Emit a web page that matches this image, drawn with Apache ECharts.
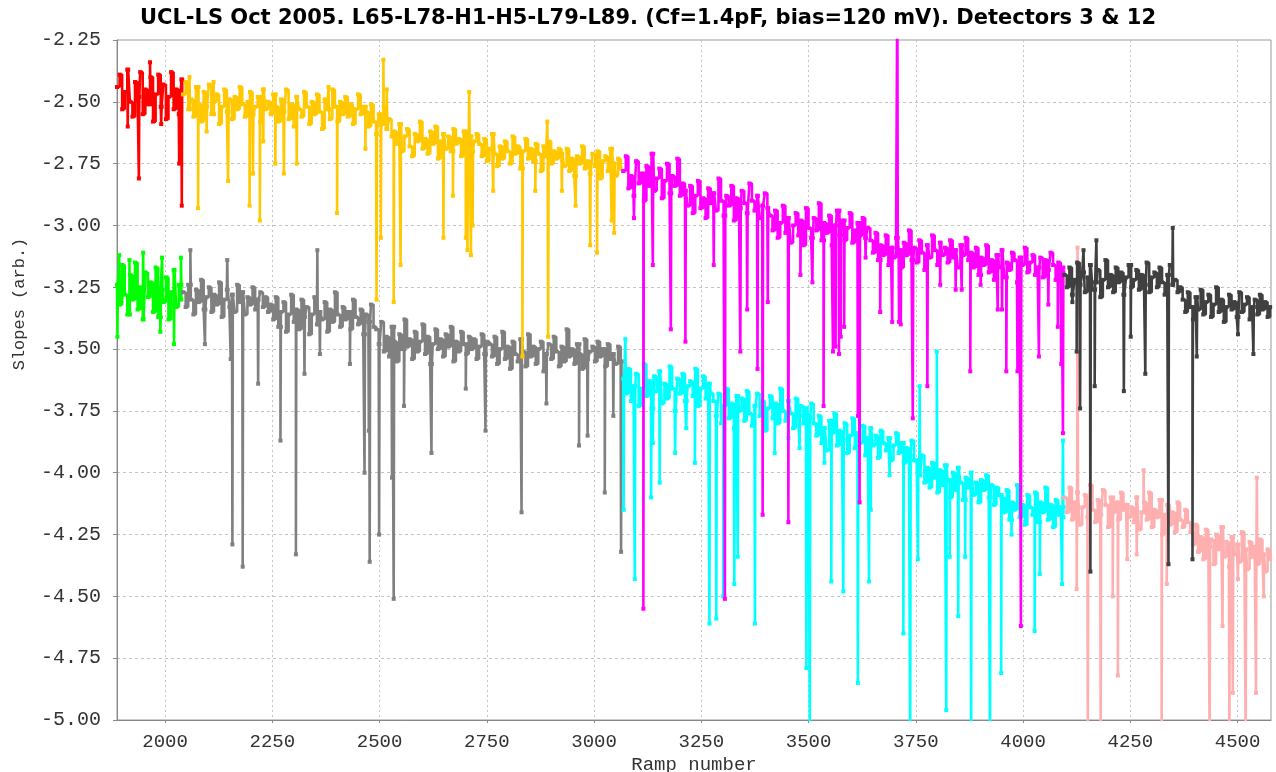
<!DOCTYPE html>
<html>
<head>
<meta charset="utf-8">
<script src="https://cdn.jsdelivr.net/npm/echarts/dist/echarts.min.js"></script>
<style>
html, body { margin: 0; padding: 0; background: #ffffff; }
#chart { width: 1276px; height: 772px; }
</style>
</head>
<body>
<div id="chart"></div>
<script>
// Ramp spacing between successive stored samples
const RAMP_STEP = 6;

// ---- Detector 3 ----
// L65 (red)
const l65Start = 1888;
const l65Det3 = [-2.44,-2.39,-2.53,-2.46,-2.37,-2.50,-2.56,-2.42,-2.48,-2.38,-2.55,-2.45,-2.51,-2.40,-2.58,-2.47,-2.39,-2.52,-2.43,-2.57,-2.48,-2.38,-2.53,-2.45,-2.55,-2.41];
const l65Det3Glitches = [[1913,-2.60],[1939,-2.81],[1965,-2.34],[1991,-2.59],[2033,-2.75],[2039,-2.92]];

// L78-H1 (orange)
const l78Start = 2042;
const l78Det3 = [
  -2.47,-2.42,-2.53,-2.49,-2.56,-2.44,-2.51,-2.58,-2.46,-2.52,-2.43,-2.55,-2.50,-2.47,-2.59,-2.52,-2.45,-2.54,-2.49,-2.57,
  -2.48,-2.53,-2.44,-2.51,-2.56,-2.50,-2.46,-2.55,-2.52,-2.48,-2.58,-2.45,-2.53,-2.50,
  -2.55,-2.47,-2.52,-2.58,-2.49,-2.54,-2.45,-2.57,-2.51,-2.60,-2.48,-2.53,-2.56,-2.46,-2.52,-2.59,-2.50,-2.55,-2.47,-2.54,
  -2.61,-2.49,-2.53,-2.57,-2.45,-2.52,-2.58,-2.50,-2.55,-2.48,-2.56,-2.51,-2.59,-2.53,-2.47,-2.55,-2.52,
  -2.54,-2.60,-2.51,-2.58,-2.63,-2.55,-2.59,-2.52,-2.61,-2.57,-2.64,
  -2.62,-2.67,-2.59,-2.70,-2.64,-2.61,-2.68,-2.72,-2.63,-2.66,-2.58,-2.69,-2.65,-2.71,-2.62,-2.67,-2.60,-2.73,-2.66,-2.63,
  -2.69,-2.64,-2.70,-2.61,-2.67,-2.65,-2.72,-2.62,-2.68,-2.64,-2.70,-2.66,-2.63,
  -2.67,-2.72,-2.65,-2.74,-2.69,-2.63,-2.71,-2.76,-2.68,-2.73,-2.66,-2.70,-2.75,-2.64,-2.71,-2.68,-2.77,-2.70,-2.65,-2.73,
  -2.69,-2.74,-2.67,-2.71,-2.78,-2.68,-2.72,-2.66,-2.75,-2.70,-2.73,-2.69,
  -2.71,-2.76,-2.69,-2.78,-2.73,-2.80,-2.72,-2.75,-2.68,-2.77,-2.74,-2.79,-2.71,-2.76,-2.70,-2.81,-2.74,-2.72,-2.78,-2.69,
  -2.75,-2.80,-2.73,-2.77
];
const l78Det3Glitches = [
  [2057,-2.40],[2077,-2.93],[2097,-2.62],[2113,-2.42],[2147,-2.82],[2197,-2.92],[2205,-2.79],[2221,-2.98],[2229,-2.66],
  [2257,-2.75],[2277,-2.79],[2307,-2.75],[2381,-2.44],[2401,-2.95],[2467,-2.69],[2493,-3.30],[2503,-3.05],[2509,-2.33],
  [2517,-2.45],[2533,-3.31],[2549,-3.16],[2649,-3.05],[2671,-2.88],[2701,-3.05],[2705,-3.10],[2709,-2.46],[2713,-3.12],
  [2717,-3.00],[2765,-2.86],[2833,-3.53],[2863,-2.86],[2891,-2.58],[2893,-3.45],[2925,-2.86],[2957,-2.92],[2991,-3.08],
  [3007,-3.11],[3041,-2.98],[3047,-3.03]
];

// H5-L79 (magenta)
const h5Start = 3068;
const h5Det3 = [
  -2.78,-2.72,-2.85,-2.80,-2.88,-2.74,-2.83,-2.79,-2.90,-2.76,-2.84,-2.71,-2.86,-2.81,-2.77,-2.89,-2.82,-2.75,-2.87,-2.80,
  -2.84,-2.73,-2.88,-2.83,
  -2.86,-2.92,-2.84,-2.95,-2.88,-2.82,-2.93,-2.89,-2.97,-2.85,-2.91,-2.87,-2.94,-2.81,-2.90,-2.96,-2.88,-2.92,-2.84,-2.98,
  -2.89,-2.93,-2.86,-2.91,-2.95,-2.83,-2.90,-2.94,-2.88,-2.97,-2.92,-2.87,-2.93,
  -2.96,-3.02,-2.94,-3.05,-2.99,-2.92,-3.03,-2.97,-3.07,-3.00,-2.95,-3.04,-2.98,-3.08,-2.93,-3.01,-3.05,-2.97,-3.02,-2.91,
  -3.06,-2.99,-3.03,-2.96,-3.08,-3.00,-2.94,-3.04,-2.98,-3.06,-3.01,-2.95,-3.07,-3.02,-2.99,-3.04,-2.97,-3.05,-3.01,
  -3.06,-3.11,-3.03,-3.14,-3.08,-3.12,-3.04,-3.16,-3.09,-3.13,-3.05,-3.10,-3.17,-3.07,-3.12,-3.02,-3.14,-3.09,-3.15,-3.06,
  -3.11,-3.18,-3.08,-3.13,-3.04,-3.10,-3.16,-3.07,-3.12,-3.09,-3.15,-3.06,-3.13,-3.10,-3.17,-3.08,-3.12,-3.05,-3.14,
  -3.11,-3.17,-3.09,-3.20,-3.13,-3.16,-3.08,-3.19,-3.14,-3.22,-3.12,-3.17,-3.10,-3.21,-3.15,-3.18,-3.11,-3.14,-3.23,-3.13,
  -3.16,-3.09,-3.19,-3.15,-3.12,-3.20,-3.17,-3.13,-3.21,-3.14,-3.18,-3.11,-3.16,-3.22,-3.15,-3.19,-3.17
];
const h5Det3Glitches = [
  [3093,-2.97],[3115,-4.55],[3137,-3.16],[3179,-3.42],[3213,-3.47],[3279,-3.16],[3305,-4.51],[3341,-3.51],[3357,-3.34],
  [3381,-3.58],[3393,-4.17],[3405,-3.31],[3453,-4.20],[3481,-3.20],[3509,-3.23],[3535,-3.73],[3557,-3.51],[3563,-3.49],
  [3571,-3.52],[3575,-3.45],[3583,-3.41],[3615,-3.77],[3619,-4.12],[3633,-3.13],[3667,-3.35],[3695,-3.39],[3707,-2.00],
  [3711,-3.39],[3715,-3.40],[3743,-3.78],[3777,-3.65],[3807,-3.24],[3843,-3.26],[3857,-3.26],[3877,-3.59],[3901,-3.24],
  [3941,-3.34],[3951,-3.34],[3961,-3.59],[3987,-3.59],[3995,-4.62],[4037,-3.53],[4059,-3.32],[4081,-3.41],[4089,-3.56],
  [4093,-3.84]
];

// L89 (dark grey)
const l89Start = 4096;
const l89Det3 = [
  -3.20,-3.25,-3.17,-3.28,-3.22,-3.15,-3.24,-3.19,-3.27,-3.21,-3.16,-3.26,-3.23,-3.18,-3.29,-3.22,-3.14,-3.25,-3.20,-3.27,
  -3.17,-3.23,-3.19,-3.28,-3.21,-3.16,-3.25,-3.22,-3.18,-3.26,-3.20,-3.24,-3.15,-3.27,-3.21,-3.19,-3.25,-3.17,-3.23,-3.28,
  -3.20,-3.16,-3.24,-3.22,-3.27,-3.25,
  -3.30,-3.35,-3.27,-3.33,-3.38,-3.29,-3.34,-3.26,-3.36,-3.31,-3.28,-3.37,-3.32,-3.25,-3.35,-3.30,-3.39,-3.33,-3.28,-3.34,
  -3.31,-3.37,-3.27,-3.35,-3.32,-3.29,-3.38,-3.33,-3.30,-3.36,-3.28,-3.34,-3.31,-3.37,-3.33
];
const l89Det3Glitches = [
  [4115,-3.31],[4125,-3.51],[4133,-3.74],[4141,-3.10],[4157,-4.40],[4167,-3.65],[4171,-3.06],[4235,-3.67],[4251,-3.45],
  [4285,-3.60],[4339,-4.37],[4349,-3.01],[4395,-4.35],[4405,-3.53],[4501,-3.44],[4537,-3.52]
];

// ---- Detector 12 ----
const l65Det12 = [-3.24,-3.32,-3.16,-3.28,-3.36,-3.20,-3.30,-3.15,-3.34,-3.25,-3.38,-3.19,-3.29,-3.23,-3.35,-3.17,-3.37,-3.26,-3.31,-3.21,-3.38,-3.27,-3.18,-3.33,-3.24,-3.30];
const l65Det12Glitches = [[1889,-3.45],[1893,-3.12],[1917,-3.14],[1949,-3.11],[1989,-3.43],[1993,-3.13],[2021,-3.48],[2037,-3.13]];

const l78Det12 = [
  -3.27,-3.33,-3.24,-3.30,-3.36,-3.26,-3.31,-3.22,-3.34,-3.29,-3.25,-3.35,-3.28,-3.32,-3.23,-3.37,-3.30,-3.26,-3.33,-3.28,
  -3.35,-3.24,-3.31,-3.27,-3.36,-3.29,-3.32,-3.25,-3.34,-3.30,-3.27,-3.33,-3.29,-3.35,
  -3.32,-3.38,-3.29,-3.41,-3.35,-3.31,-3.43,-3.36,-3.28,-3.39,-3.34,-3.42,-3.30,-3.37,-3.33,-3.44,-3.36,-3.29,-3.40,-3.35,
  -3.38,-3.31,-3.43,-3.34,-3.39,-3.27,-3.36,-3.41,-3.33,-3.38,-3.35,-3.42,-3.30,-3.37,-3.40,-3.34,-3.44,-3.36,-3.39,-3.32,
  -3.41,
  -3.42,-3.48,-3.39,-3.51,-3.45,-3.53,-3.41,-3.47,-3.55,-3.44,-3.50,-3.38,-3.49,-3.46,-3.54,-3.43,-3.51,-3.47,-3.40,-3.52,
  -3.45,-3.56,-3.48,-3.42,-3.50,-3.46,-3.53,-3.44,-3.49,-3.41,-3.55,-3.47,-3.51,-3.43,-3.48,-3.52,-3.45,-3.50,-3.46,-3.54,
  -3.49,-3.44,-3.52,-3.47,
  -3.48,-3.53,-3.45,-3.56,-3.50,-3.43,-3.54,-3.49,-3.58,-3.47,-3.52,-3.55,-3.46,-3.51,-3.57,-3.44,-3.53,-3.49,-3.56,-3.50,
  -3.47,-3.59,-3.52,-3.48,-3.54,-3.45,-3.51,-3.57,-3.49,-3.55,-3.42,-3.53,-3.50,-3.56,-3.48,-3.52,-3.58,-3.46,-3.54,-3.51,
  -3.49,-3.55,-3.47,-3.53,-3.50,-3.57,-3.48,-3.54,-3.52,-3.56,-3.49,-3.55
];
const l78Det12Glitches = [
  [2059,-3.10],[2093,-3.48],[2145,-3.14],[2153,-3.54],[2157,-4.29],[2181,-4.38],[2217,-3.64],[2269,-3.87],[2305,-4.33],
  [2325,-3.60],[2355,-3.10],[2361,-3.52],[2431,-3.56],[2465,-4.00],[2475,-3.83],[2477,-4.36],[2499,-4.25],[2529,-4.02],
  [2533,-4.51],[2557,-3.73],[2621,-3.92],[2701,-3.66],[2747,-3.83],[2831,-4.16],[2889,-3.72],[2965,-3.89],[2985,-3.85],
  [3025,-4.08],[3045,-3.77],[3063,-4.32]
];

const h5Det12 = [
  -3.62,-3.68,-3.58,-3.71,-3.65,-3.60,-3.73,-3.66,-3.56,-3.69,-3.63,-3.74,-3.61,-3.67,-3.59,-3.72,-3.64,-3.70,-3.57,-3.66,
  -3.75,-3.62,-3.68,-3.60,-3.71,-3.65,-3.63,-3.69,-3.58,-3.73,-3.66,-3.61,-3.70,-3.64,-3.68,
  -3.71,-3.77,-3.68,-3.80,-3.73,-3.66,-3.78,-3.72,-3.82,-3.69,-3.75,-3.70,-3.79,-3.67,-3.76,-3.81,-3.73,-3.68,-3.77,-3.71,
  -3.83,-3.74,-3.69,-3.78,-3.72,-3.80,-3.66,-3.75,-3.79,-3.71,-3.76,-3.82,-3.70,-3.77,-3.73,-3.80,-3.74,-3.78,-3.72,
  -3.80,-3.85,-3.77,-3.88,-3.82,-3.91,-3.79,-3.84,-3.76,-3.89,-3.83,-3.87,-3.80,-3.92,-3.85,-3.78,-3.90,-3.84,-3.88,-3.81,
  -3.93,-3.86,-3.82,-3.89,-3.85,-3.94,-3.83,-3.88,-3.91,-3.86,-3.95,-3.89,-3.84,-3.92,-3.88,-3.96,-3.90,-3.93,-3.87,-3.95,
  -3.95,-4.01,-3.93,-4.04,-3.98,-4.06,-3.96,-4.02,-4.08,-3.99,-4.05,-3.97,-4.03,-4.10,-4.00,-4.07,-3.98,-4.04,-4.11,-4.02,
  -4.06,-4.00,-4.09,-4.04,-4.12,-4.03,-4.07,-4.01,-4.10,-4.05,-4.13,-4.06,-4.09,
  -4.10,-4.16,-4.07,-4.19,-4.12,-4.15,-4.05,-4.18,-4.13,-4.21,-4.09,-4.14,-4.17,-4.08,-4.20,-4.12,-4.16,-4.06,-4.19,-4.13,
  -4.22,-4.11,-4.17,-4.14,-4.18
];
const h5Det12Glitches = [
  [3069,-4.15],[3073,-3.46],[3095,-4.43],[3133,-4.10],[3137,-3.88],[3153,-4.04],[3189,-3.92],[3215,-3.82],[3235,-3.96],
  [3269,-4.61],[3285,-4.59],[3301,-4.50],[3327,-4.45],[3335,-4.34],[3375,-4.61],[3421,-3.92],[3453,-3.86],[3479,-3.90],
  [3495,-4.79],[3503,-5.10],[3537,-3.96],[3553,-4.44],[3581,-4.48],[3615,-4.85],[3641,-4.44],[3645,-4.15],[3689,-4.01],
  [3721,-4.65],[3737,-5.10],[3755,-4.35],[3759,-3.65],[3799,-3.51],[3821,-4.96],[3829,-4.34],[3849,-4.58],[3865,-4.34],
  [3879,-5.10],[3923,-5.10],[3949,-4.81],[3973,-4.25],[4027,-4.64],[4039,-4.41],[4091,-4.45],[4093,-3.87]
];

const l89Det12 = [
  -4.10,-4.16,-4.06,-4.19,-4.12,-4.08,-4.21,-4.14,-4.09,-4.18,-4.05,-4.15,-4.20,-4.11,-4.17,-4.07,-4.13,-4.22,-4.10,-4.16,
  -4.12,-4.19,-4.08,-4.15,-4.13,-4.18,
  -4.14,-4.20,-4.10,-4.23,-4.16,-4.12,-4.19,-4.08,-4.22,-4.15,-4.18,-4.11,-4.25,-4.17,-4.13,-4.21,-4.16,-4.24,-4.12,-4.19,
  -4.22,-4.15,-4.20,
  -4.24,-4.29,-4.21,-4.32,-4.26,-4.35,-4.23,-4.30,-4.27,-4.37,-4.25,-4.31,-4.22,-4.34,-4.28,-4.38,-4.26,-4.33,-4.29,-4.36,
  -4.24,-4.31,-4.39,-4.28,-4.34,-4.30,-4.37,-4.27,-4.33,-4.40,-4.31,-4.35
];
const l89Det12Glitches = [
  [4125,-4.47],[4127,-3.09],[4151,-5.10],[4181,-5.10],[4209,-4.50],[4221,-4.82],[4243,-4.35],[4265,-4.33],[4281,-3.99],
  [4323,-5.10],[4335,-4.45],[4435,-5.10],[4465,-4.62],[4481,-5.10],[4489,-4.89],[4501,-4.43],[4519,-5.10],[4543,-4.89],
  [4545,-4.02],[4561,-4.50]
];

// Axis ticks
const rampTicks = [2000, 2250, 2500, 2750, 3000, 3250, 3500, 3750, 4000, 4250, 4500];
const slopeTicks = [-5.00, -4.75, -4.50, -4.25, -4.00, -3.75, -3.50, -3.25, -3.00, -2.75, -2.50, -2.25];

// Merge regular samples with isolated glitch samples (each glitch lasts one ramp)
function buildRun(start, slopes, glitches) {
  const pts = [];
  const g = glitches.slice().sort((a, b) => a[0] - b[0]);
  let k = 0;
  for (let i = 0; i < slopes.length; i++) {
    const x = start + i * RAMP_STEP;
    const nextX = i + 1 < slopes.length ? x + RAMP_STEP : Infinity;
    pts.push([x, slopes[i]]);
    while (k < g.length && g[k][0] < nextX) {
      if (g[k][0] > x) {
        pts.push([g[k][0], g[k][1]]);
        pts.push([g[k][0] + 1, slopes[i]]);
      }
      k++;
    }
  }
  return pts;
}

function stepSeries(name, color, data, z) {
  return {
    name: name,
    type: 'line',
    step: 'end',
    data: data,
    symbol: 'rect',
    symbolSize: 4,
    showSymbol: true,
    showAllSymbol: true,
    lineStyle: { color: color, width: 2.6 },
    itemStyle: { color: color },
    emphasis: { disabled: true },
    silent: true,
    animation: false,
    z: z
  };
}

const chart = echarts.init(document.getElementById('chart'), null, { renderer: 'canvas' });
const monoFont = '"Liberation Mono", "DejaVu Sans Mono", monospace';

chart.setOption({
  backgroundColor: '#ffffff',
  animation: false,
  title: {
    text: 'UCL-LS Oct 2005. L65-L78-H1-H5-L79-L89. (Cf=1.4pF, bias=120 mV). Detectors 3 & 12',
    left: 643,
    top: 3,
    textAlign: 'center',
    textStyle: { fontFamily: '"DejaVu Sans", sans-serif', fontWeight: 'bold', fontSize: 21, color: '#000000' }
  },
  grid: {
    left: 117, right: 5, top: 40, bottom: 52,
    outerBoundsMode: 'none',
    containLabel: false,
    show: true, borderColor: '#999999', borderWidth: 1, backgroundColor: '#ffffff'
  },
  graphic: [{
    type: 'text',
    x: 19, y: 304,
    rotation: Math.PI / 2,
    style: {
      text: 'Slopes (arb.)',
      font: '17px ' + monoFont,
      fill: '#333333',
      align: 'center',
      verticalAlign: 'middle'
    }
  }],
  xAxis: {
    type: 'value',
    min: 1888, max: 4578,
    minInterval: 250, maxInterval: 250,
    name: 'Ramp number',
    nameLocation: 'middle',
    nameGap: 31,
    nameTextStyle: { fontFamily: monoFont, fontSize: 19, color: '#333333' },
    axisLine: { show: true, onZero: false, lineStyle: { color: '#888888', width: 1 } },
    axisTick: { show: true, length: 3, lineStyle: { color: '#888888' } },
    axisLabel: {
      fontFamily: monoFont, fontSize: 19, color: '#333333', margin: 12,
      showMinLabel: false, showMaxLabel: false,
      formatter: v => (rampTicks.indexOf(v) >= 0 ? String(v) : '')
    },
    splitLine: { show: true, showMinLine: false, showMaxLine: false, lineStyle: { color: '#c4c4c4', type: [2, 3], width: 1 } }
  },
  yAxis: {
    type: 'value',
    min: -5.0, max: -2.25, interval: 0.25,
    axisLine: { show: true, onZero: false, lineStyle: { color: '#888888', width: 1 } },
    axisTick: { show: true, length: 4, lineStyle: { color: '#888888' } },
    axisLabel: {
      fontFamily: monoFont, fontSize: 20, color: '#333333', margin: 16,
      formatter: v => slopeTicks.find(t => Math.abs(t - v) < 1e-6).toFixed(2)
    },
    splitLine: { show: true, showMinLine: false, showMaxLine: false, lineStyle: { color: '#c4c4c4', type: [3, 3], width: 1 } }
  },
  series: [
    stepSeries('L65 det 12', '#00ff00', buildRun(l65Start, l65Det12, l65Det12Glitches), 2),
    stepSeries('L78-H1 det 12', '#808080', buildRun(l78Start, l78Det12, l78Det12Glitches), 2),
    stepSeries('H5-L79 det 12', '#00ffff', buildRun(h5Start, h5Det12, h5Det12Glitches), 2),
    stepSeries('L89 det 12', '#ffafaf', buildRun(l89Start, l89Det12, l89Det12Glitches), 2),
    stepSeries('L65 det 3', '#ff0000', buildRun(l65Start, l65Det3, l65Det3Glitches), 3),
    stepSeries('L78-H1 det 3', '#ffc800', buildRun(l78Start, l78Det3, l78Det3Glitches), 3),
    stepSeries('H5-L79 det 3', '#ff00ff', buildRun(h5Start, h5Det3, h5Det3Glitches), 3),
    stepSeries('L89 det 3', '#404040', buildRun(l89Start, l89Det3, l89Det3Glitches), 3)
  ]
});
</script>
</body>
</html>
